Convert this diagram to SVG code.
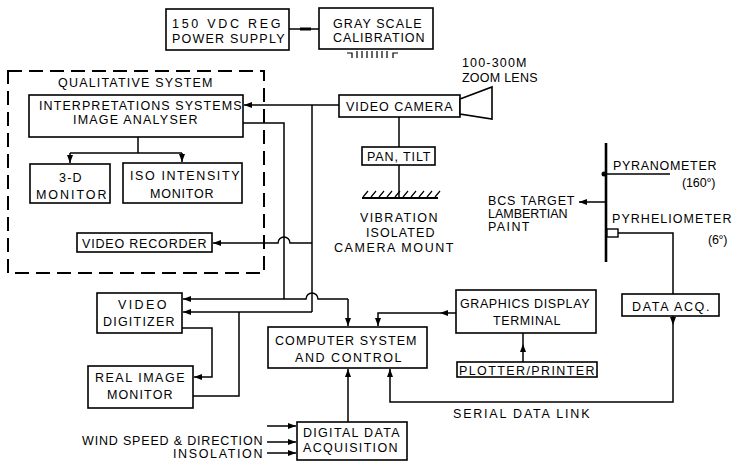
<svg xmlns="http://www.w3.org/2000/svg" width="736" height="464" viewBox="0 0 736 464">
<style>
.b{fill:#fff;stroke:#000;stroke-width:1.6}
.l{fill:none;stroke:#000;stroke-width:1.5}
.t{font-family:"Liberation Sans",Arial,sans-serif;font-size:12.5px;fill:#000;letter-spacing:0.5px}
.a{marker-end:url(#ah)}
</style>
<defs>
<marker id="ah" viewBox="0 0 8 6" refX="8" refY="3" markerWidth="8" markerHeight="6" orient="auto" markerUnits="userSpaceOnUse"><path d="M0,0 L8,3 L0,6 z" fill="#000"/></marker>
</defs>
<rect width="736" height="464" fill="#fff"/>

<g id="connectors">
<path class="l" d="M289,29 H319"/>
<path d="M300,27.5 H311 V30.5 H300 z" fill="#000"/>
<path class="l" d="M347,53 H352 V58 M393,58 V53 H398 M357,51 V58 M362,51 V58 M367,51 V58 M372,51 V58 M377,51 V58 M382,51 V58 M387,51 V58" style="stroke-width:1.2"/>
<path class="l a" d="M339,105 H244"/>
<path class="l" d="M312,105 V312"/>
<path class="l a" d="M312,312 H183"/>
<path class="l" d="M243,123 H284 V299"/>
<path class="l a" d="M348,299 H318 A6,6 0 0 0 306,299 H183"/>
<path class="l a" d="M348,299 V326"/>
<path class="l a" d="M312,243 H290 A6,6 0 0 0 278,243 H213"/>
<path class="l" d="M138,137 V153 M70,153 H182"/>
<path class="l a" d="M70,153 V163"/>
<path class="l a" d="M182,153 V162"/>
<path class="l" d="M399,117 V147 M399,165 V198"/>
<path class="l" d="M362,198 H438" style="stroke-width:1.8"/>
<path class="l" d="M363,197 l5,-6 M371,197 l5,-6 M379,197 l5,-6 M387,197 l5,-6 M395,197 l5,-6 M403,197 l5,-6 M411,197 l5,-6 M419,197 l5,-6 M427,197 l5,-6 M435,197 l5,-6" style="stroke-width:1.2"/>
<path class="l a" d="M182,328 H212 V377 H194"/>
<path class="l" d="M193,396 H239 V312"/>
<path class="l a" d="M456,313 H440"/>
<path class="l a" d="M440,313 H378 V326"/>
<path class="l a" d="M523,362 V344"/>
<path class="l" d="M523,344 V333"/>
<path class="l a" d="M348,422 V369"/>
<path class="l a" d="M673,316 V325"/>
<path class="l a" d="M673,325 V402 H390 V369"/>
<path class="l a" d="M267,426 H296"/>
<path class="l a" d="M267,442 H296"/>
<path class="l a" d="M267,453 H296"/>
<path class="l" d="M606,143 V262" style="stroke-width:2.6"/>
<path class="l" d="M606,174 H670"/>
<circle cx="604" cy="174" r="2.5" fill="#000"/>
<path class="l a" d="M605,202 H579"/>
<rect x="607" y="229" width="11" height="8" class="b" style="stroke-width:1.4"/>
<path class="l" d="M618,233 H673 V294"/>
</g>

<g id="power_supply">
<rect class="b" x="166" y="9" width="123" height="41"/>
<text class="t" x="172" y="28" textLength="109" lengthAdjust="spacing">150 VDC REG</text>
<text class="t" x="172" y="43" textLength="113" lengthAdjust="spacing">POWER SUPPLY</text>
</g>
<g id="gray_scale">
<rect class="b" x="319" y="8" width="114" height="41"/>
<text class="t" x="333" y="28" textLength="89" lengthAdjust="spacing">GRAY SCALE</text>
<text class="t" x="333" y="42" textLength="92" lengthAdjust="spacing">CALIBRATION</text>
</g>
<g id="qualitative_system">
<rect x="8" y="71" width="256" height="202" fill="none" stroke="#000" stroke-width="2" stroke-dasharray="14 7"/>
<text class="t" x="58" y="87" textLength="155" lengthAdjust="spacing">QUALITATIVE SYSTEM</text>
</g>
<g id="image_analyser">
<rect class="b" x="29" y="95" width="214" height="42"/>
<text class="t" x="39" y="110" textLength="203" lengthAdjust="spacing">INTERPRETATIONS SYSTEMS</text>
<text class="t" x="73" y="124" textLength="125" lengthAdjust="spacing">IMAGE ANALYSER</text>
</g>
<g id="monitor_3d">
<rect class="b" x="30" y="164" width="80" height="39"/>
<text class="t" x="59" y="182" textLength="23" lengthAdjust="spacing">3-D</text>
<text class="t" x="36" y="199" textLength="71" lengthAdjust="spacing">MONITOR</text>
</g>
<g id="iso_monitor">
<rect class="b" x="123" y="163" width="119" height="40"/>
<text class="t" x="130" y="180" textLength="110" lengthAdjust="spacing">ISO INTENSITY</text>
<text class="t" x="150" y="198" textLength="64" lengthAdjust="spacing">MONITOR</text>
</g>
<g id="video_recorder">
<rect class="b" x="77" y="233" width="135" height="19"/>
<text class="t" x="82" y="248" textLength="125" lengthAdjust="spacing">VIDEO RECORDER</text>
</g>
<g id="video_camera">
<rect class="b" x="339" y="95" width="121" height="22"/>
<text class="t" x="346" y="111" textLength="107" lengthAdjust="spacing">VIDEO CAMERA</text>
<path class="b" d="M460,99 L492,87 L492,119 L460,114 z"/>
<text class="t" x="462" y="67" textLength="65" lengthAdjust="spacing">100-300M</text>
<text class="t" x="462" y="82" textLength="76" lengthAdjust="spacing">ZOOM LENS</text>
</g>
<g id="pan_tilt">
<rect class="b" x="362" y="147" width="73" height="18"/>
<text class="t" x="367" y="161" textLength="64" lengthAdjust="spacing">PAN, TILT</text>
</g>
<g id="camera_mount">
<text class="t" x="360" y="222" textLength="78" lengthAdjust="spacing">VIBRATION</text>
<text class="t" x="366" y="237" textLength="69" lengthAdjust="spacing">ISOLATED</text>
<text class="t" x="334" y="252" textLength="120" lengthAdjust="spacing">CAMERA MOUNT</text>
</g>
<g id="bcs_target">
<text class="t" x="488" y="205" textLength="87" lengthAdjust="spacing">BCS TARGET</text>
<text class="t" x="488" y="218" textLength="80" lengthAdjust="spacing">LAMBERTIAN</text>
<text class="t" x="488" y="231" textLength="42" lengthAdjust="spacing">PAINT</text>
</g>
<g id="pyranometer">
<text class="t" x="613" y="170" textLength="104" lengthAdjust="spacing">PYRANOMETER</text>
<text class="t" x="682" y="187" textLength="34" lengthAdjust="spacing">(160°)</text>
</g>
<g id="pyrheliometer">
<text class="t" x="612" y="223" textLength="120" lengthAdjust="spacing">PYRHELIOMETER</text>
<text class="t" x="708" y="244" textLength="20" lengthAdjust="spacing">(6°)</text>
</g>
<g id="video_digitizer">
<rect class="b" x="97" y="293" width="85" height="40"/>
<text class="t" x="118" y="309" textLength="49" lengthAdjust="spacing">VIDEO</text>
<text class="t" x="103" y="326" textLength="72" lengthAdjust="spacing">DIGITIZER</text>
</g>
<g id="real_image_monitor">
<rect class="b" x="88" y="366" width="105" height="42"/>
<text class="t" x="95" y="382" textLength="90" lengthAdjust="spacing">REAL IMAGE</text>
<text class="t" x="107" y="399" textLength="66" lengthAdjust="spacing">MONITOR</text>
</g>
<g id="computer">
<rect class="b" x="268" y="327" width="159" height="41"/>
<text class="t" x="275" y="345" textLength="142" lengthAdjust="spacing">COMPUTER SYSTEM</text>
<text class="t" x="295" y="362" textLength="107" lengthAdjust="spacing">AND CONTROL</text>
</g>
<g id="graphics_terminal">
<rect class="b" x="456" y="290" width="140" height="43"/>
<text class="t" x="460" y="308" textLength="130" lengthAdjust="spacing">GRAPHICS DISPLAY</text>
<text class="t" x="493" y="325" textLength="68" lengthAdjust="spacing">TERMINAL</text>
</g>
<g id="plotter_printer">
<rect class="b" x="457" y="362" width="140" height="15"/>
<text class="t" x="459" y="375" textLength="136" lengthAdjust="spacing">PLOTTER/PRINTER</text>
</g>
<g id="data_acq">
<rect class="b" x="622" y="294" width="97" height="22"/>
<text class="t" x="632" y="311" textLength="78" lengthAdjust="spacing">DATA ACQ.</text>
</g>
<g id="serial_link">
<text class="t" x="453" y="418" textLength="137" lengthAdjust="spacing">SERIAL DATA LINK</text>
</g>
<g id="digital_acq">
<rect class="b" x="297" y="422" width="110" height="38"/>
<text class="t" x="303" y="437" textLength="97" lengthAdjust="spacing">DIGITAL DATA</text>
<text class="t" x="303" y="452" textLength="95" lengthAdjust="spacing">ACQUISITION</text>
</g>
<g id="inputs">
<text class="t" x="82" y="445" textLength="181" lengthAdjust="spacing">WIND SPEED &amp; DIRECTION</text>
<text class="t" x="173" y="458" textLength="90" lengthAdjust="spacing">INSOLATION</text>
</g>
</svg>
